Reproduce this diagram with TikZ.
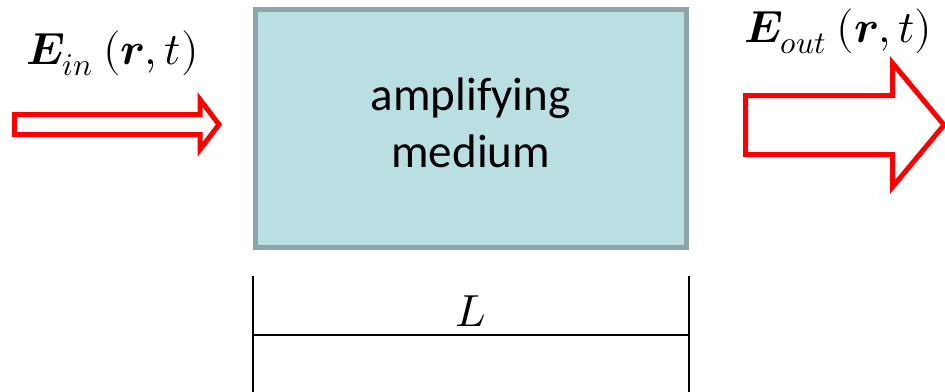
\documentclass[tikz,border=0pt]{standalone}
\usepackage{fontspec}
\usepackage{unicode-math}
\setmainfont{Carlito}
\setmathfont{Latin Modern Math}
\definecolor{mediumfill}{HTML}{BADFE2}
\definecolor{mediumedge}{HTML}{8DA5A9}

\begin{document}
\begin{tikzpicture}[x=1pt, y=-1pt,
  blockarrow/.style={draw=red, line width=5pt},
  medium/.style={draw=mediumedge, fill=mediumfill, line width=5pt,
    minimum width=430.5pt, minimum height=238pt, align=center,
    font=\fontsize{47}{57}\selectfont, text depth=11pt},
  dimline/.style={line width=2pt},
  fieldlabel/.style={font=\fontsize{45}{55}\selectfont}]
  \useasboundingbox (0,0) rectangle (945,391);
  \node[medium] (box) at (470.75,128.5) {amplifying\\medium};
  \node[fieldlabel, anchor=base west] (inlabel) at (23,64)
    {$\symbfit{E}_{in}\ (\symbfit{r},t)$};
  \node[fieldlabel, anchor=base west] (outlabel) at (741,42)
    {$\symbfit{E}_{out}\ (\symbfit{r},t)$};
  \draw[blockarrow] (14.5,114.5) -- (200,114.5) -- (200,99.5) -- (219,124.5)
    -- (200,149.5) -- (200,134.5) -- (14.5,134.5) -- cycle;
  \draw[blockarrow] (745.5,95.5) -- (892.5,95.5) -- (892.5,63) -- (944,125)
    -- (892.5,187) -- (892.5,154.5) -- (745.5,154.5) -- cycle;
  \draw[dimline] (box.south west) ++(0,25.5) coordinate (dl) -- ++(0,120);
  \draw[dimline] (box.south east) ++(0,25.5) coordinate (dr) -- ++(0,120);
  \draw[dimline] ([yshift=-59pt]dl) -- ([yshift=-59pt]dr)
    node[midway, above=4pt, fieldlabel] (lenlabel) {$L$};
\end{tikzpicture}
\end{document}
